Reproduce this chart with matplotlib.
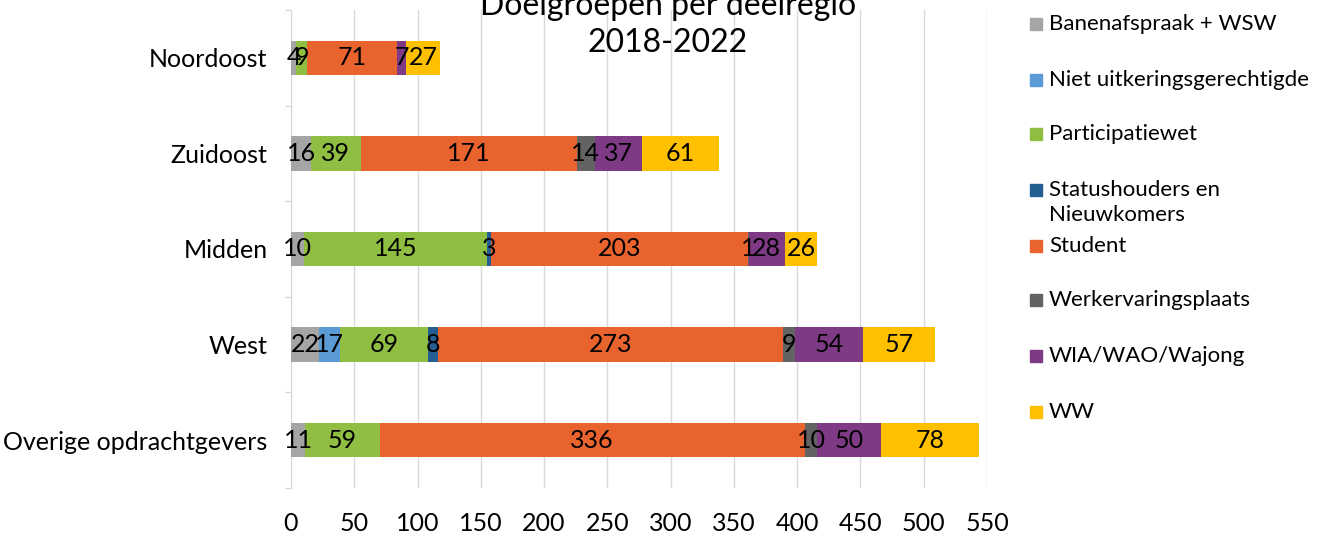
import matplotlib
matplotlib.use("Agg")
import matplotlib.pyplot as plt
import numpy as np
from matplotlib.patches import Rectangle

plt.rcParams["font.family"] = ["Lato", "DejaVu Sans"]

# data
regions = ["Noordoost", "Zuidoost", "Midden", "West", "Overige opdrachtgevers"]
groups = ["Banenafspraak + WSW", "Niet uitkeringsgerechtigde", "Participatiewet",
          "Statushouders en\nNieuwkomers", "Student", "Werkervaringsplaats",
          "WIA/WAO/Wajong", "WW"]
banen = [4, 16, 10, 22, 11]
niet_uitk = [0, 0, 0, 17, 0]
participatie = [9, 39, 145, 69, 59]
statushouders = [0, 0, 3, 8, 0]
student = [71, 171, 203, 273, 336]
werkervaring = [0, 14, 1, 9, 10]
wia = [7, 37, 28, 54, 50]
ww = [27, 61, 26, 57, 78]
series = [banen, niet_uitk, participatie, statushouders, student,
          werkervaring, wia, ww]
colors = ["#A5A5A5", "#5B9BD5", "#8FBE42", "#255E91", "#E9632F",
          "#636363", "#7E3A84", "#FFC000"]
xticks = list(range(0, 551, 50))

W, H = 1322, 534
fig = plt.figure(figsize=(W / 100, H / 100), dpi=100)
ax = fig.add_axes([291 / W, 1 - 488 / H, (987 - 291) / W, (488 - 10) / H])

y = np.arange(len(regions))
left = np.zeros(len(regions))
for vals, c in zip(series, colors):
    vals = np.array(vals, dtype=float)
    ax.barh(y, vals, left=left, height=0.36, color=c, linewidth=0, zorder=3)
    for yi, (l, v) in enumerate(zip(left, vals)):
        if v > 0:
            ax.text(l + v / 2, yi, f"{int(v)}", ha="center", va="center",
                    fontsize=18, color="black", zorder=4)
    left += vals

ax.set_xlim(0, 550)
ax.set_ylim(len(regions) - 0.5, -0.5)
ax.set_xticks(xticks)
ax.set_yticks(y)
ax.set_yticklabels(regions)
ax.set_yticks(np.arange(-0.5, len(regions), 1), minor=True)
ax.tick_params(axis="x", length=0, pad=17, labelsize=18)
ax.tick_params(axis="y", which="major", length=0, pad=17, labelsize=18)
ax.tick_params(axis="y", which="minor", length=4, color="#D9D9D9", width=1)
ax.grid(axis="x", color="#D9D9D9", linewidth=1, zorder=0)
for s in ("top", "right", "bottom"):
    ax.spines[s].set_visible(False)
ax.spines["left"].set_color("#D9D9D9")

fig.text(668 / W, 1 - 58 / H, "Doelgroepen per deelregio\n2018-2022",
         ha="center", va="bottom", fontsize=23, linespacing=1.3)

# legend drawn by hand to match the spacing of the original
ly = [24, 80, 134, 190, 246, 300, 356, 412]
for label, c, yy in zip(groups, colors, ly):
    fig.patches.append(Rectangle((1030 / W, 1 - (yy + 6) / H), 12 / W, 12 / H,
                                 transform=fig.transFigure, color=c))
    multi = "\n" in label
    fig.text(1049 / W, 1 - (yy - 10 if multi else yy) / H, label, ha="left",
             va="top" if multi else "center", fontsize=16, linespacing=1.3)

fig.savefig("out.png", dpi=100)
